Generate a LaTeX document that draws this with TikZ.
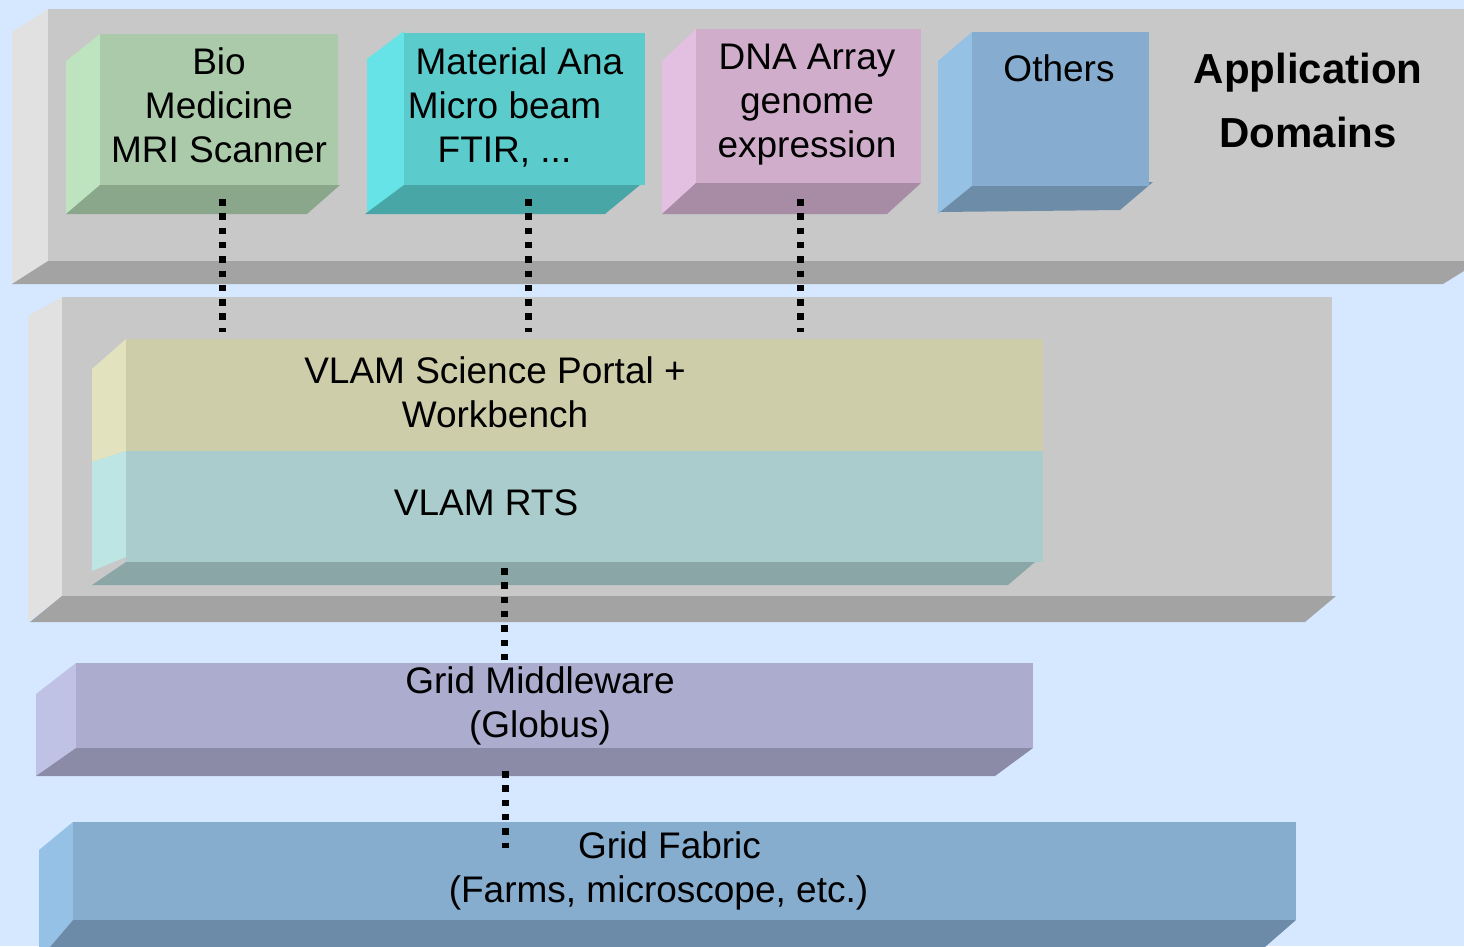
\documentclass[tikz,border=0pt]{standalone}
\usepackage{fontspec}
\setmainfont{Liberation Sans}
\usetikzlibrary{calc}

% page and container greys
\definecolor{bgblue}{HTML}{D5E8FF}
\definecolor{grayF}{HTML}{C8C8C8}
\definecolor{grayL}{HTML}{E1E1E1}
\definecolor{grayB}{HTML}{A3A3A3}
% application boxes
\definecolor{bioF}{HTML}{AACAAA}
\definecolor{bioL}{HTML}{BEE3BF}
\definecolor{bioB}{HTML}{8BA78B}
\definecolor{matF}{HTML}{5BCBCC}
\definecolor{matL}{HTML}{66E3E6}
\definecolor{matB}{HTML}{48A6A6}
\definecolor{dnaF}{HTML}{D0ADCB}
\definecolor{dnaL}{HTML}{E3C0E2}
\definecolor{dnaB}{HTML}{A88CA6}
\definecolor{othF}{HTML}{86ADCF}
\definecolor{othL}{HTML}{95C1E5}
\definecolor{othB}{HTML}{6C8CA8}
% VLAM layers
\definecolor{porF}{HTML}{CDCDAA}
\definecolor{porL}{HTML}{E2E2BE}
\definecolor{rtsF}{HTML}{AACCCD}
\definecolor{rtsL}{HTML}{BDE5E3}
\definecolor{rtsB}{HTML}{8AA6A6}
% grid layers
\definecolor{midF}{HTML}{ABACCE}
\definecolor{midL}{HTML}{C0C2E5}
\definecolor{midB}{HTML}{8B8BA8}
\definecolor{fabF}{HTML}{86ACCE}
\definecolor{fabL}{HTML}{94C1E5}
\definecolor{fabB}{HTML}{6B8BA8}

\tikzset{
  face/.style={rectangle, inner sep=0pt, outer sep=0pt, anchor=north west, draw=none},
  txt/.style={inner sep=0pt, outer sep=0pt, anchor=north, align=center,
              font=\fontsize{37}{44}\selectfont},
  boldtxt/.style={inner sep=0pt, outer sep=0pt, anchor=north, align=center,
              font=\fontsize{42}{64}\selectfont\bfseries},
  conn/.style={draw=black, line width=7pt, dash pattern=on 6.5pt off 7.8pt, line cap=butt},
}

\begin{document}
\begin{tikzpicture}[x=1pt,y=-1pt]
\useasboundingbox (0,0) rectangle (1464,946);
\clip (0,0) rectangle (1464,946);
\fill[bgblue] (0,0) rectangle (1464,946);

% ---------- Application domains container ----------
\fill[grayL] (48,9) -- (12,32) -- (12,284) -- (48,261) -- cycle;
\fill[grayB] (48,261) -- (1480,261) -- (1443,284) -- (12,284) -- cycle;
\node[face, fill=grayF, minimum width=1432, minimum height=252] (appc) at (48,9) {};

% Bio
\fill[bioL] (100,34) -- (66,61) -- (66,214) -- (100,185) -- cycle;
\fill[bioB] (100,185) -- (340,185) -- (307,214) -- (66,214) -- cycle;
\node[face, fill=bioF, minimum width=238, minimum height=151] (bio) at (100,34) {};
\node[txt] (biotxt) at (219,74-30.8) {\strut Bio\\\strut Medicine\\\strut MRI Scanner};

% Material analysis
\fill[matL] (404,31) -- (367,59) -- (367,214) -- (404,185) -- cycle;
\fill[matB] (404,185) -- (640,185) -- (605,214) -- (365,214) -- cycle;
\node[face, fill=matF, minimum width=241, minimum height=152] (mat) at (404,33) {};
\node[txt] (mattxt) at (504.5,74-30.8) {\strut\hspace*{30pt}Material Ana\\\strut Micro beam\\\strut FTIR, ...};

% DNA array
\fill[dnaL] (696,29) -- (662,61) -- (662,214) -- (696,183) -- cycle;
\fill[dnaB] (696,183) -- (921,183) -- (887,214) -- (662,214) -- cycle;
\node[face, fill=dnaF, minimum width=225, minimum height=154] (dna) at (696,29) {};
\node[txt] (dnatxt) at (807,69-30.8) {\strut DNA Array\\\strut genome\\\strut expression};

% Others
\fill[othL] (972,32) -- (938,61) -- (938,214) -- (972,186) -- cycle;
\fill[othB] (972,186) -- (1153,182) -- (1120,210) -- (940,212) -- cycle;
\node[face, fill=othF, minimum width=177, minimum height=154] (oth) at (972,32) {};
\node[txt] (othtxt) at (1059,81-30.8) {\strut Others};

\node[boldtxt] (apptxt) at (1308,83-44.8) {\strut Application\\\strut Domains};

% ---------- VLAM container ----------
\fill[grayL] (62,297) -- (28,316) -- (28,622) -- (62,596) -- cycle;
\fill[grayB] (62,596) -- (1336,596) -- (1305,622) -- (30,622) -- cycle;
\node[face, fill=grayF, minimum width=1270, minimum height=299] (vlamc) at (62,297) {};

% Science portal + workbench
\fill[porL] (126,339) -- (92,369) -- (92,462) -- (126,451) -- cycle;
\node[face, fill=porF, minimum width=917, minimum height=112] (portal) at (126,339) {};
\node[txt] (portxt) at (495,383-30.8) {\strut VLAM Science Portal +\\\strut Workbench};

% Run-time system
\fill[rtsL] (126,451) -- (92,462) -- (92,571) -- (126,557) -- cycle;
\fill[rtsB] (126,562) -- (1035,562) -- (1008,585) -- (92,585) -- cycle;
\node[face, fill=rtsF, minimum width=917, minimum height=111] (rts) at (126,451) {};
\node[txt] (rtstxt) at (486,515-30.8) {\strut VLAM RTS};

% ---------- Grid middleware ----------
\fill[midL] (76,663) -- (36,694) -- (36,776) -- (76,748) -- cycle;
\fill[midB] (76,748) -- (1033,748) -- (995,776) -- (36,776) -- cycle;
\node[face, fill=midF, minimum width=957, minimum height=85] (mid) at (76,663) {};
\node[txt] (midtxt) at (540,693-30.8) {\strut Grid Middleware\\\strut (Globus)};

% ---------- Grid fabric ----------
\fill[fabL] (73,822) -- (39,850) -- (39,960) -- (73,920) -- cycle;
\fill[fabB] (73,920) -- (1296,920) -- (1250,960) -- (39,960) -- cycle;
\node[face, fill=fabF, minimum width=1223, minimum height=98] (fab) at (73,822) {};
\node[txt] (fabtxt) at (658.5,858-30.8) {\strut\hspace*{22pt}Grid Fabric\\\strut (Farms, microscope, etc.)};

% ---------- dotted links between layers ----------
\draw[conn] ($(bio.south)+(3,14)$) -- ($(bio.south |- portal.north)+(3,-7)$);
\draw[conn] ($(mat.south)+(3.5,14)$) -- ($(mat.south |- portal.north)+(3.5,-7)$);
\draw[conn] ($(dna.south)+(-8.5,16)$) -- ($(dna.south |- portal.north)+(-8.5,-7)$);
\draw[conn] ($(rts.south)+(-80.5,6)$) -- ($(rts.south |- mid.north)+(-80.5,-3)$);
\draw[conn] ($(mid.south)+(-49.5,23)$) -- ($(mid.south |- fab.north)+(-49.5,26)$);
\end{tikzpicture}
\end{document}
